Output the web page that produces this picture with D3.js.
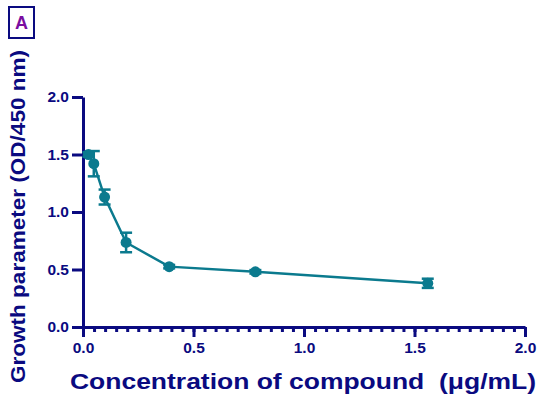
<!DOCTYPE html>
<html>
<head>
<meta charset="utf-8">
<script src="https://cdn.jsdelivr.net/npm/d3@7"></script>
<style>
  body { margin: 0; background: #fff; }
  text { font-family: Arial, "Liberation Sans", sans-serif; font-weight: bold; }
</style>
</head>
<body>
<div id="chart"></div>
<script>
// Growth curve vs concentration

const width = 539,
    height = 400;
const margin = {top: 97, right: 14, bottom: 73, left: 83};

const navy = "#0a0a80";
const teal = "#0b7a8e";
const font = "Arial, 'Liberation Sans', sans-serif";

// data
const concentration = [0.0244, 0.0488, 0.0977, 0.195, 0.39, 0.78, 1.56];
const growth = [1.50, 1.42, 1.13, 0.735, 0.525, 0.48, 0.38];
const errors = [0.02, 0.11, 0.065, 0.085, 0.015, 0.015, 0.04];
const xTicks = [0, 0.5, 1.0, 1.5, 2.0];
const yTicks = [0, 0.5, 1.0, 1.5, 2.0];

const svg = d3.select("#chart")
  .append("svg")
    .attr("width", width)
    .attr("height", height);

const x = d3.scaleLinear()
  .domain([0, 2])
  .range([margin.left, width - margin.right]);

const y = d3.scaleLinear()
  .domain([0, 2])
  .range([height - margin.bottom, margin.top]);

const styleText = g => g.selectAll("text")
  .attr("fill", navy)
  .style("font-size", "15.5px")
  .style("font-weight", "bold")
  .style("font-family", font);

// x axis with minor ticks every 0.05
const xMinor = d3.range(0, 2.0001, 0.05);
svg.append("g")
  .attr("transform", `translate(0, ${y(0)})`)
  .call(d3.axisBottom(x).tickValues(xMinor).tickSize(5).tickFormat(""))
  .call(g => g.select(".domain").remove())
  .call(g => g.selectAll("line").attr("stroke", navy).attr("stroke-width", 3));

svg.append("g")
  .attr("transform", `translate(0, ${y(0)})`)
  .call(d3.axisBottom(x).tickValues(xTicks).tickSize(10).tickPadding(5).tickSizeOuter(0).tickFormat(d3.format(".1f")))
  .call(g => g.select(".domain").attr("stroke", navy).attr("stroke-width", 3))
  .call(g => g.selectAll("line").attr("stroke", navy).attr("stroke-width", 3))
  .call(styleText);

// y axis
svg.append("g")
  .attr("transform", `translate(${x(0)}, 0)`)
  .call(d3.axisLeft(y).tickValues(yTicks).tickSize(11).tickPadding(3).tickSizeOuter(0).tickFormat(d3.format(".1f")))
  .call(g => g.select(".domain").attr("stroke", navy).attr("stroke-width", 3))
  .call(g => g.selectAll("line").attr("stroke", navy).attr("stroke-width", 3))
  .call(styleText);

// axis titles
svg.append("text")
  .attr("x", 70)
  .attr("y", 389)
  .attr("textLength", 466)
  .attr("lengthAdjust", "spacingAndGlyphs")
  .attr("fill", navy)
  .style("font-size", "22px")
  .text("Concentration of compound\u00a0 (\u03bcg/mL)");

svg.append("text")
  .attr("transform", "translate(25, 383) rotate(-90)")
  .attr("textLength", 333)
  .attr("lengthAdjust", "spacingAndGlyphs")
  .attr("fill", navy)
  .style("font-size", "20px")
  .text("Growth parameter (OD/450 nm)");

// panel letter
svg.append("rect")
  .attr("x", 9).attr("y", 7)
  .attr("width", 25).attr("height", 31)
  .attr("fill", "none")
  .attr("stroke", navy)
  .attr("stroke-width", 2);
svg.append("text")
  .attr("x", 21.5).attr("y", 29)
  .attr("text-anchor", "middle")
  .attr("fill", "#7a0ea0")
  .style("font-size", "18px")
  .text("A");

// data
const pts = concentration.map((c, i) => ({c: c, g: growth[i], e: errors[i]}));

const line = d3.line()
  .x(d => x(d.c))
  .y(d => y(d.g));

svg.append("path")
  .datum(pts)
  .attr("d", line)
  .attr("fill", "none")
  .attr("stroke", teal)
  .attr("stroke-width", 2.5);

// error bars
const eb = svg.selectAll("g.err")
  .data(pts)
  .join("g")
    .attr("class", "err")
    .attr("stroke", teal)
    .attr("stroke-width", 2.5);
eb.append("line")
  .attr("x1", d => x(d.c)).attr("x2", d => x(d.c))
  .attr("y1", d => y(d.g - d.e)).attr("y2", d => y(d.g + d.e));
eb.append("line")
  .attr("x1", d => x(d.c) - 6).attr("x2", d => x(d.c) + 6)
  .attr("y1", d => y(d.g + d.e)).attr("y2", d => y(d.g + d.e));
eb.append("line")
  .attr("x1", d => x(d.c) - 6).attr("x2", d => x(d.c) + 6)
  .attr("y1", d => y(d.g - d.e)).attr("y2", d => y(d.g - d.e));

svg.selectAll("circle.pt")
  .data(pts)
  .join("circle")
    .attr("class", "pt")
    .attr("cx", d => x(d.c))
    .attr("cy", d => y(d.g))
    .attr("r", 5.5)
    .attr("fill", teal);
</script>
</body>
</html>
